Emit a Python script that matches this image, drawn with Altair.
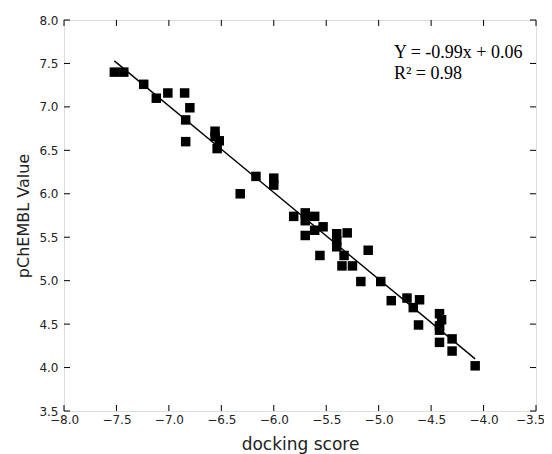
import altair as alt
import pandas as pd

# data
dock = [-7.52, -7.43, -7.24, -7.12, -7.01, -6.85, -6.80, -6.84, -6.84, -6.56,
        -6.56, -6.52, -6.54, -6.17, -6.00, -6.00, -6.32,
        -5.81, -5.70, -5.70, -5.61, -5.61, -5.70, -5.53, -5.56, -5.40, -5.40,
        -5.40, -5.30, -5.33, -5.35, -5.25, -5.10, -5.17, -4.98, -4.88, -4.73,
        -4.61, -4.67, -4.62, -4.42, -4.40, -4.42, -4.42, -4.42, -4.30, -4.30,
        -4.08]
pchembl = [7.40, 7.40, 7.26, 7.10, 7.16, 7.16, 6.99, 6.85, 6.60, 6.72,
           6.66, 6.61, 6.52, 6.20, 6.18, 6.10, 6.00,
           5.74, 5.78, 5.69, 5.74, 5.58, 5.52, 5.62, 5.29, 5.54, 5.46,
           5.39, 5.55, 5.29, 5.17, 5.17, 5.35, 4.99, 4.99, 4.77, 4.80,
           4.78, 4.69, 4.49, 4.62, 4.55, 4.48, 4.43, 4.29, 4.33, 4.19,
           4.02]
fit_x = [-7.52, -4.08]
fit_y = [7.53, 4.10]
x_ticks = [-8.0, -7.5, -7.0, -6.5, -6.0, -5.5, -5.0, -4.5, -4.0, -3.5]
y_ticks = [3.5, 4.0, 4.5, 5.0, 5.5, 6.0, 6.5, 7.0, 7.5, 8.0]
ann_lines = ["Y = -0.99x + 0.06", "R\u00b2 = 0.98"]
ann_x = [-4.855, -4.855]
ann_y = [7.62, 7.375]

W, H = 472, 391
TL = 6

pts = pd.DataFrame({"x": dock, "y": pchembl})
fit = pd.DataFrame({"x": fit_x, "y": fit_y})
xt = pd.DataFrame({"v": x_ticks})
yt = pd.DataFrame({"v": y_ticks})
ann = pd.DataFrame({"t": ann_lines, "x": ann_x, "y": ann_y})

xs = alt.Scale(domain=[-8.0, -3.5], nice=False, zero=False)
ys = alt.Scale(domain=[3.5, 8.0], nice=False, zero=False)

lab_expr = ("datum.value < 0 ? '\u2212' + format(-datum.value, '.1f') "
            ": format(datum.value, '.1f')")

xaxis = alt.Axis(values=x_ticks, labelExpr=lab_expr, ticks=False, domain=False, grid=False,
                 labelFlush=False, labelPadding=3, titlePadding=11,
                 labelOffset={"condition": {"test": "datum.value == -3.5", "value": -6},
                              "value": 0},
                 labelFont="DejaVu Sans", labelFontSize=12,
                 titleFont="DejaVu Sans", titleFontSize=17, titleFontWeight="normal",
                 labelColor="#222", titleColor="#222")
yaxis = alt.Axis(values=y_ticks, labelExpr=lab_expr, ticks=False, domain=False, grid=False,
                 labelFlush=False, labelPadding=6, titlePadding=7,
                 labelFont="DejaVu Sans", labelFontSize=12,
                 titleFont="DejaVu Sans", titleFontSize=16, titleFontWeight="normal",
                 labelColor="#222", titleColor="#222")

points = alt.Chart(pts).mark_point(shape="square", filled=True, color="black",
                                   size=90, opacity=1).encode(
    x=alt.X("x:Q", scale=xs, axis=xaxis, title="docking score"),
    y=alt.Y("y:Q", scale=ys, axis=yaxis, title="pChEMBL Value"),
)

line = alt.Chart(fit).mark_line(color="black", strokeWidth=1.4).encode(
    x=alt.X("x:Q", scale=xs), y=alt.Y("y:Q", scale=ys))

tb = alt.Chart(xt).mark_rule(color="black").encode(
    x=alt.X("v:Q", scale=xs), y=alt.value(H), y2=alt.value(H - TL))
tt = alt.Chart(xt).mark_rule(color="black").encode(
    x=alt.X("v:Q", scale=xs), y=alt.value(0), y2=alt.value(TL))
tlft = alt.Chart(yt).mark_rule(color="black").encode(
    y=alt.Y("v:Q", scale=ys), x=alt.value(0), x2=alt.value(TL))
trt = alt.Chart(yt).mark_rule(color="black").encode(
    y=alt.Y("v:Q", scale=ys), x=alt.value(W), x2=alt.value(W - TL))

text = alt.Chart(ann).mark_text(align="left", baseline="middle", font="Liberation Serif",
                                fontSize=18, color="black").encode(
    x=alt.X("x:Q", scale=xs), y=alt.Y("y:Q", scale=ys), text="t:N")

chart = alt.layer(line, points, tb, tt, tlft, trt, text).properties(
    width=W, height=H,
    autosize=alt.AutoSizeParams(type="none"),
    padding={"left": 56, "top": 12, "right": 8, "bottom": 43}
).configure_view(stroke="black", strokeWidth=1.2).configure(background="white")

chart.save("out.html", embed_options={"renderer": "svg", "actions": False})
